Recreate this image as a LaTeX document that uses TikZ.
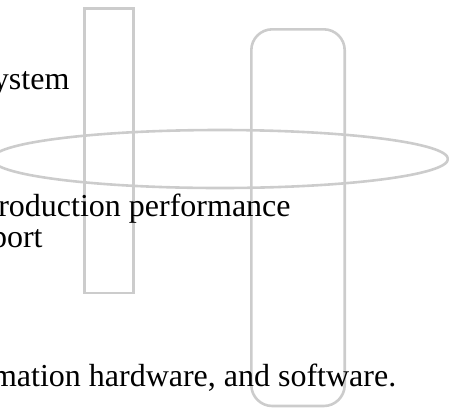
\documentclass[tikz,border=0pt]{standalone}
\usepackage{fontspec}
\setmainfont{Liberation Serif}
\definecolor{edgegray}{HTML}{CCCCCC}
\begin{document}
\begin{tikzpicture}[x=1pt,y=-1pt,
  shp/.style={draw=edgegray,line width=2.6pt},
  txt/.style={anchor=base west,inner sep=0pt,outer sep=0pt,text=black,font=\fontsize{32}{38}\selectfont}]
\useasboundingbox (0,0) rectangle (449,408);
\clip (0,0) rectangle (449,408);
% shapes
\draw[shp] (220,159) ellipse [x radius=228, y radius=29];
\draw[shp] (84.7,8.7) rectangle (133.3,293);
\draw[shp,rounded corners=21pt] (251.3,29.3) rectangle (344.7,406);
% texts
\node[txt] (t1) at (-7,89) {ystem};
\node[txt] (t2) at (-1.7,216) {roduction performance};
\node[txt] (t3) at (-9,247) {port};
\node[txt] (t4) at (-8,386) {mation hardware, and software.};
\end{tikzpicture}
\end{document}
